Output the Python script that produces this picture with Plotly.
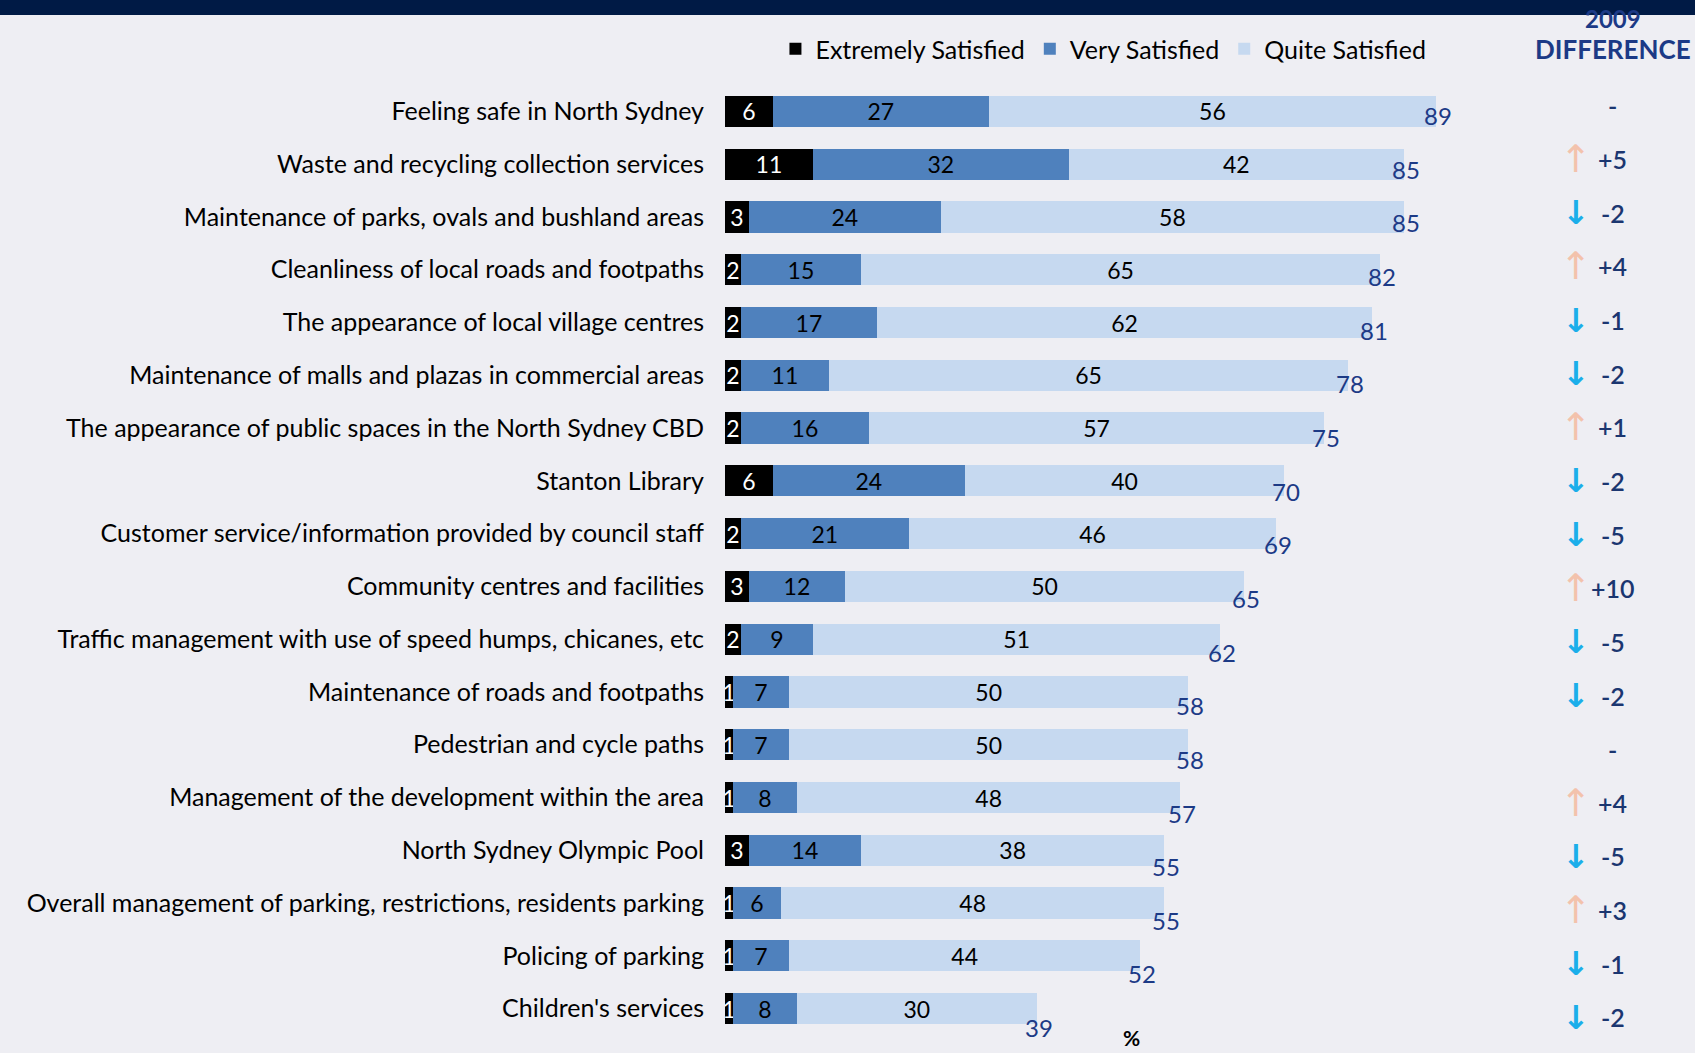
import plotly.graph_objects as go

# Council services satisfaction, % of residents
categories = [
    "Feeling safe in North Sydney",
    "Waste and recycling collection services",
    "Maintenance of parks, ovals and bushland areas",
    "Cleanliness of local roads and footpaths",
    "The appearance of local village centres",
    "Maintenance of malls and plazas in commercial areas",
    "The appearance of public spaces in the North Sydney CBD",
    "Stanton Library",
    "Customer service/information provided by council staff",
    "Community centres and facilities",
    "Traffic management with use of speed humps, chicanes, etc",
    "Maintenance of roads and footpaths",
    "Pedestrian and cycle paths",
    "Management of the development within the area",
    "North Sydney Olympic Pool",
    "Overall management of parking, restrictions, residents parking",
    "Policing of parking",
    "Children's services",
]
extremely = [6, 11, 3, 2, 2, 2, 2, 6, 2, 3, 2, 1, 1, 1, 3, 1, 1, 1]
very = [27, 32, 24, 15, 17, 11, 16, 24, 21, 12, 9, 7, 7, 8, 14, 6, 7, 8]
quite = [56, 42, 58, 65, 62, 65, 57, 40, 46, 50, 51, 50, 50, 48, 38, 48, 44, 30]
totals = [89, 85, 85, 82, 81, 78, 75, 70, 69, 65, 62, 58, 58, 57, 55, 55, 52, 39]
# change since 2009 (None = no change)
diff_2009 = [None, 5, -2, 4, -1, -2, 1, -2, -5, 10, -5, -2, None, 4, -5, 3, -1, -2]

BG = "#EEEEF3"
NAVY = "#1C3A86"
FONT = "Lato"

fig = go.Figure()
series = [
    ("Extremely Satisfied", extremely, "#000000", "white"),
    ("Very Satisfied", very, "#4F81BD", "black"),
    ("Quite Satisfied", quite, "#C6D9F0", "black"),
]
for name, vals, color, tcolor in series:
    fig.add_trace(go.Bar(
        y=categories, x=vals, name=name, orientation="h",
        marker=dict(color=color, line=dict(width=0)),
        text=[str(v) for v in vals], textposition="inside",
        insidetextanchor="middle", textangle=0, constraintext="none",
        textfont=dict(family=FONT, size=23, color=tcolor),
        hoverinfo="skip",
    ))

annotations = []
# totals at the end of each bar
for i, (cat, t) in enumerate(zip(categories, totals)):
    annotations.append(dict(
        x=t, y=cat, xref="x", yref="y", text=str(t), showarrow=False,
        xanchor="center", yanchor="middle", xshift=2, yshift=-(4 + 0.8 * i) * 1.08,
        font=dict(family=FONT, size=24, color=NAVY),
    ))

# difference column
for i, (cat, d) in enumerate(zip(categories, diff_2009)):
    ys = (5.5 - 0.8 * i) * 1.08
    if d is None:
        label = "-"
    else:
        label = f"+{d}" if d > 0 else f"{d}"
        if d > 0:
            arrow, acolor, asize = "↑", "#F3C2AC", 38
        else:
            arrow, acolor, asize = "<b>↓</b>", "#1BAEEA", 33
        annotations.append(dict(
            x=0.877, y=cat, xref="paper", yref="y", text=arrow, showarrow=False,
            xanchor="center", yanchor="middle", yshift=ys,
            font=dict(family="DejaVu Sans", size=asize, color=acolor),
        ))
    annotations.append(dict(
        x=0.915, y=cat, xref="paper", yref="y", text=label, showarrow=False,
        xanchor="center", yanchor="middle", yshift=ys,
        font=dict(family=FONT, size=25, color="#1B3670", weight=600),
    ))

annotations += [
    dict(x=0.915, y=1 + (85 - 19) / 950, xref="paper", yref="paper", text="<b>2009</b>",
         showarrow=False, xanchor="center", yanchor="middle",
         font=dict(family=FONT, size=24, color=NAVY)),
    dict(x=0.915, y=1 + (85 - 49) / 950, xref="paper", yref="paper", text="<b>DIFFERENCE</b>",
         showarrow=False, xanchor="center", yanchor="middle",
         font=dict(family=FONT, size=26, color=NAVY)),
    dict(x=0.4186, y=-(1037 - 1035) / 950, xref="paper", yref="paper", text="<b>%</b>",
         showarrow=False, xanchor="center", yanchor="middle",
         font=dict(family=FONT, size=21, color="black")),
]

fig.update_layout(
    width=1695, height=1053,
    margin=dict(l=725, r=0, t=85, b=18),
    paper_bgcolor=BG, plot_bgcolor=BG,
    barmode="stack", bargap=0.41,
    uniformtext=dict(minsize=23, mode="show"),
    showlegend=True,
    legend=dict(
        orientation="h", x=0.052, y=1 + (85 - 49) / 950, xanchor="left", yanchor="middle",
        font=dict(family=FONT, size=25, color="black"), bgcolor="rgba(0,0,0,0)",
        traceorder="normal", itemclick=False,
    ),
    xaxis=dict(range=[0, 970 / 7.99], visible=False, fixedrange=True),
    yaxis=dict(
        autorange="reversed", showgrid=False, zeroline=False, showline=False,
        ticks="outside", ticklen=15, tickcolor="rgba(0,0,0,0)",
        tickfont=dict(family=FONT, size=25, color="black"),
    ),
    annotations=annotations,
    shapes=[dict(type="rect", xref="paper", yref="paper",
                 x0=-725 / 970, x1=1.0, y0=1 + (85 - 15) / 950, y1=1 + 85 / 950 + 0.01,
                 fillcolor="#001A45", line=dict(width=0), layer="above")],
)

fig.write_html("out.html")
